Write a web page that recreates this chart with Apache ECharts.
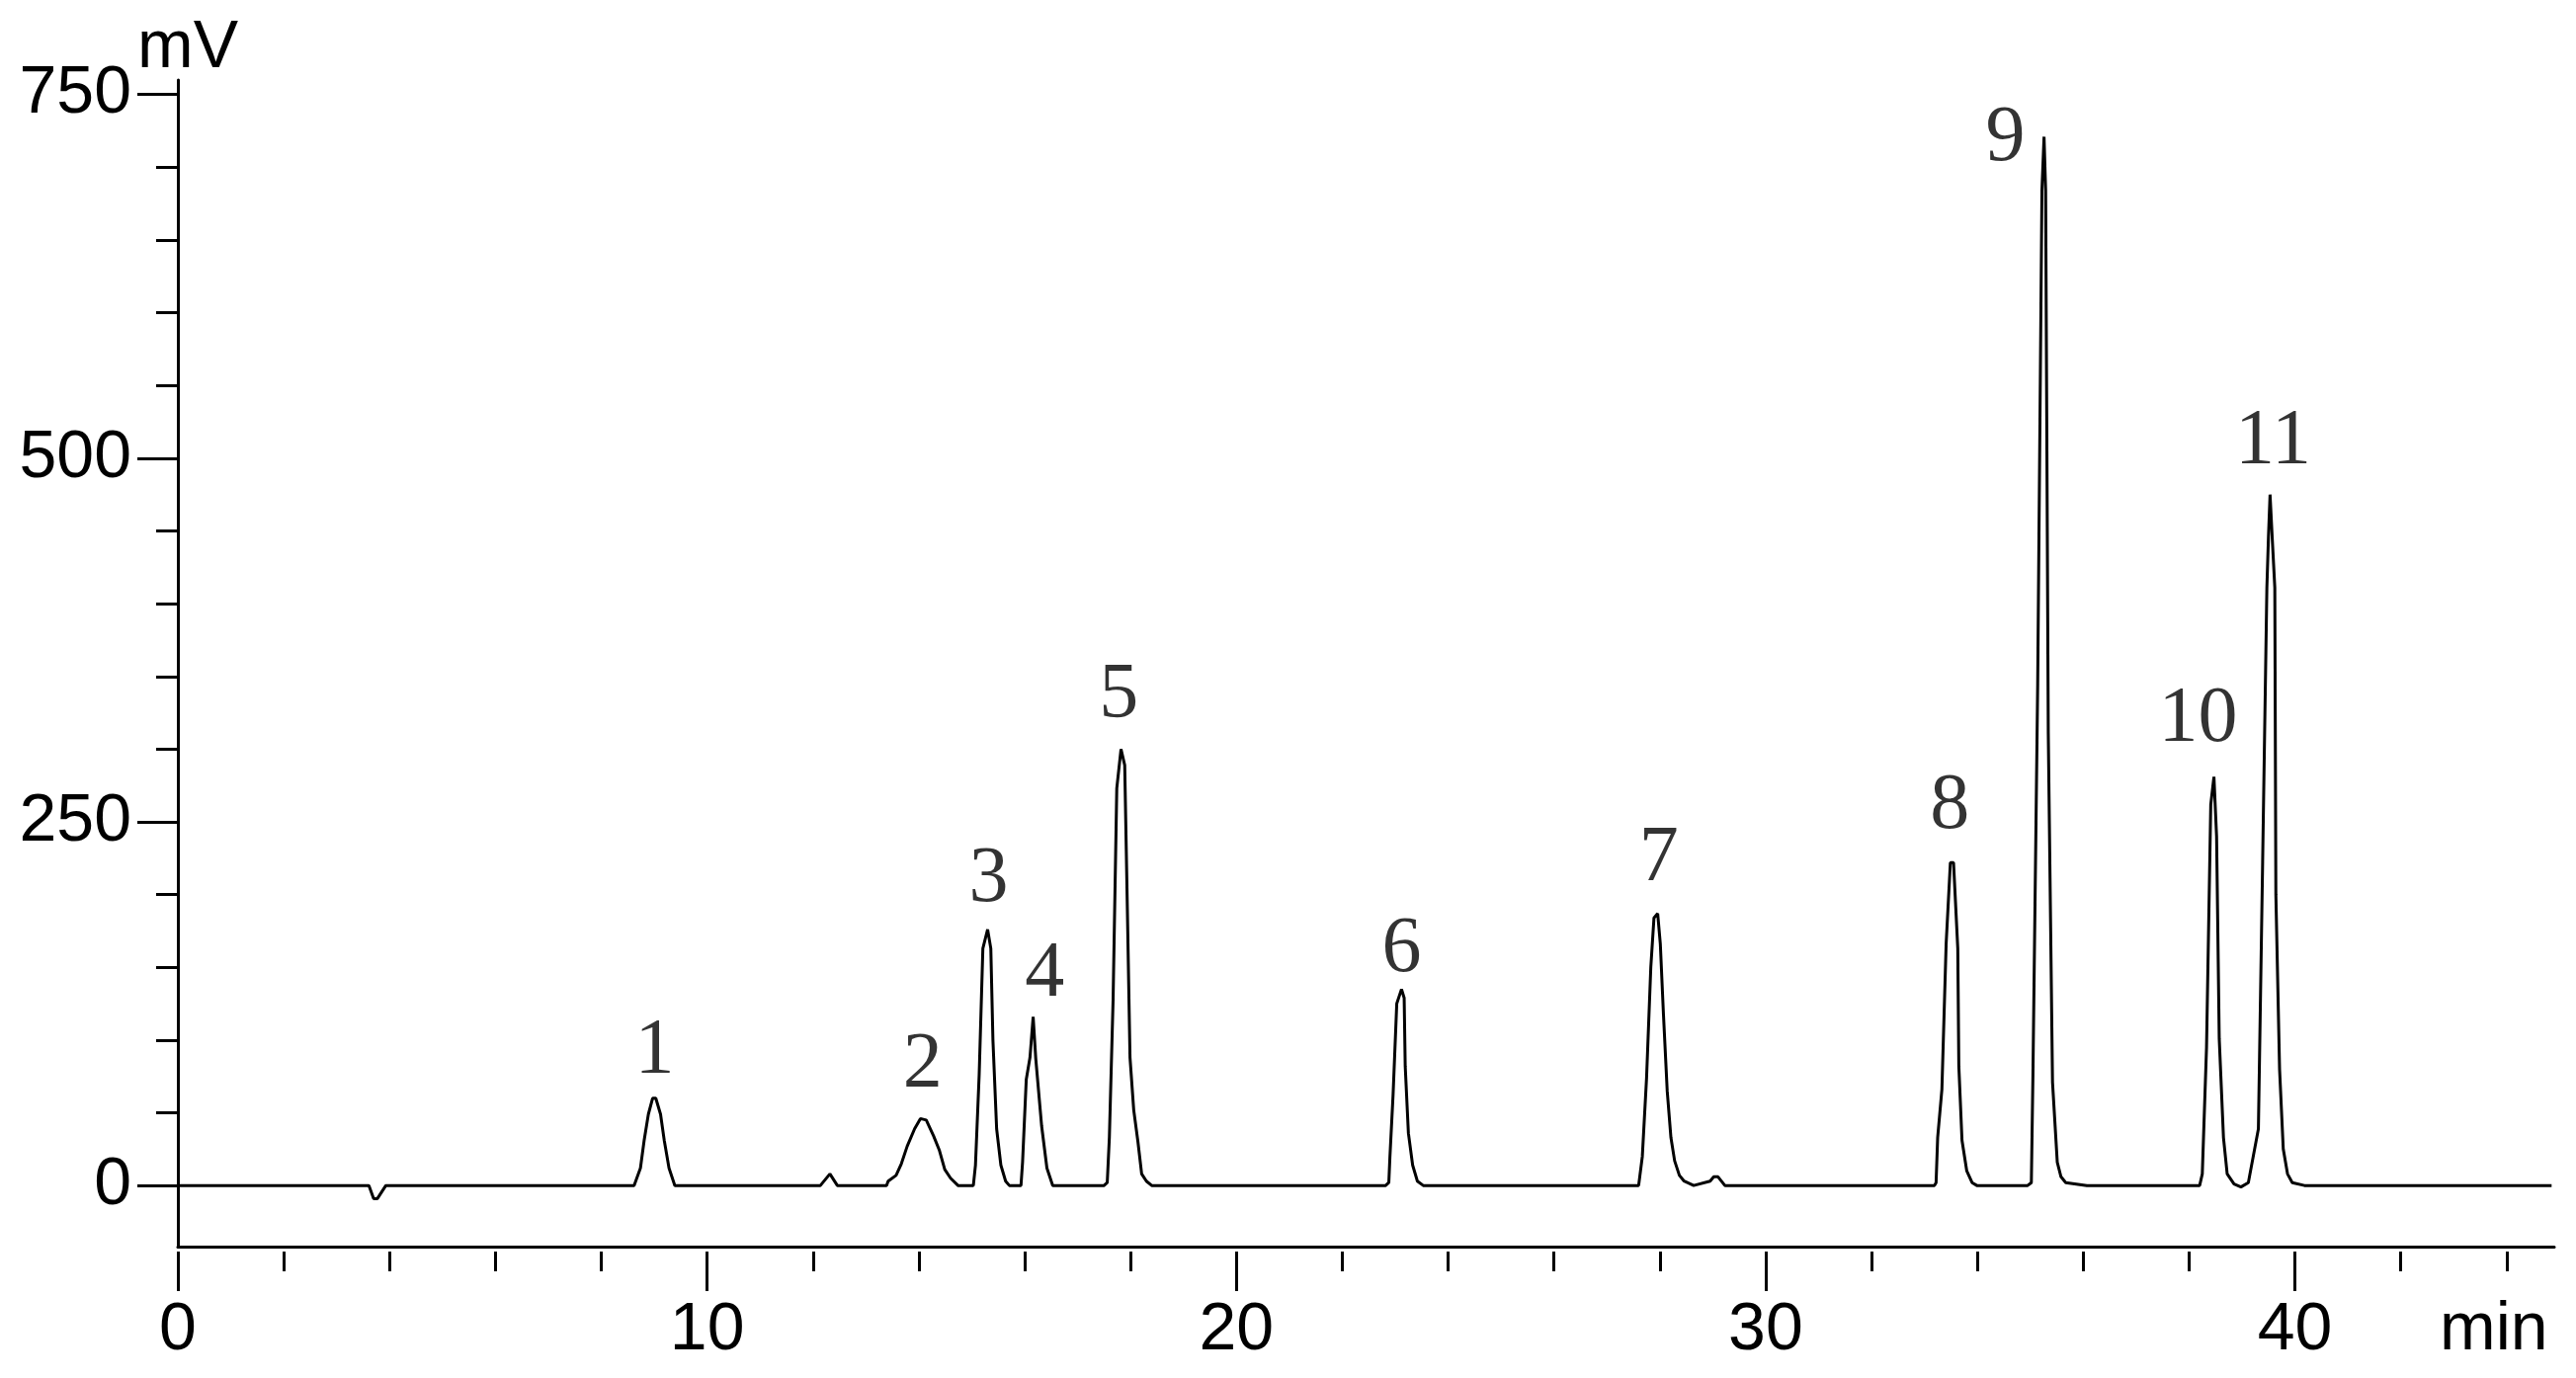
<!DOCTYPE html>
<html>
<head>
<meta charset="utf-8">
<title>Chromatogram</title>
<script src="https://cdn.jsdelivr.net/npm/echarts@6.0.0/dist/echarts.min.js"></script>
<style>
    html, body { margin: 0; padding: 0; background: #fff; }
    #chart { width: 2607px; height: 1395px; }
</style>
</head>
<body>
<div id="chart"></div>
<script>
// Trace pieces, [time (min), signal (mV)]
const baseStart = [[0, 0]];
const dip = [[3.61, 0], [3.70, -9], [3.77, -9], [3.93, 0]];
const peak1 = [[8.62, 0], [8.74, 12], [8.81, 31], [8.89, 49], [8.97, 60], [9.03, 60], [9.12, 49], [9.19, 31], [9.28, 12], [9.39, 0]];
const bump1 = [[12.14, 0], [12.32, 8], [12.46, 0]];
const peak2 = [[13.39, 0], [13.42, 3], [13.57, 7], [13.67, 15], [13.78, 27], [13.92, 39], [14.03, 46], [14.14, 45], [14.28, 34], [14.39, 24], [14.49, 11], [14.60, 5], [14.74, 0]];
const peak3 = [[15.03, 0], [15.07, 14], [15.14, 76], [15.21, 163], [15.30, 176], [15.36, 163], [15.40, 100], [15.47, 39], [15.55, 14], [15.64, 3], [15.71, 0]];
const peak4 = [[15.93, 0], [15.96, 16], [16.03, 73], [16.10, 88], [16.16, 116], [16.21, 87], [16.32, 41], [16.42, 12], [16.53, 0]];
const peak5 = [[17.50, 0], [17.56, 2], [17.60, 33], [17.67, 127], [17.74, 273], [17.82, 300], [17.89, 289], [17.94, 190], [17.99, 88], [18.06, 52], [18.14, 30], [18.21, 8], [18.30, 3], [18.40, 0]];
const peak6 = [[22.82, 0], [22.88, 2], [22.90, 19], [22.96, 62], [23.03, 125], [23.12, 135], [23.17, 129], [23.19, 82], [23.25, 36], [23.33, 14], [23.42, 3], [23.53, 0]];
const peak7 = [[27.60, 0], [27.67, 20], [27.75, 74], [27.83, 150], [27.89, 184], [27.96, 187], [28.01, 166], [28.07, 117], [28.14, 65], [28.21, 33], [28.28, 17], [28.37, 7], [28.46, 3], [28.64, 0]];
const bump2 = [[28.95, 3], [29.02, 6], [29.10, 6], [29.23, 0]];
const peak8 = [[33.19, 0], [33.22, 2], [33.25, 33], [33.33, 66], [33.41, 166], [33.49, 222], [33.55, 222], [33.63, 163], [33.65, 82], [33.71, 31], [33.80, 10], [33.90, 2], [33.99, 0]];
const peak9 = [[34.95, 0], [35.02, 2], [35.05, 76], [35.14, 345], [35.22, 684], [35.26, 721], [35.29, 684], [35.34, 311], [35.42, 71], [35.51, 16], [35.58, 6], [35.67, 2], [36.07, 0]];
const peak10 = [[38.20, 0], [38.25, 8], [38.33, 95], [38.41, 262], [38.47, 281], [38.52, 240], [38.57, 101], [38.65, 33], [38.72, 8], [38.85, 1], [38.98, -1]];
const peak11 = [[39.12, 2], [39.31, 39], [39.39, 222], [39.47, 411], [39.50, 446], [39.53, 475], [39.57, 446], [39.62, 411], [39.64, 200], [39.71, 80], [39.78, 25], [39.86, 8], [39.95, 2], [40.18, 0]];
const baseEnd = [[44.85, 0]];

// Peak numbers and where they sit (time, mV)
const peakNames = ['1', '2', '3', '4', '5', '6', '7', '8', '9', '10', '11'];
const labelTimes = [9.01, 14.07, 15.32, 16.38, 17.78, 23.12, 27.98, 33.48, 34.53, 38.17, 39.59];
const labelLevels = [92, 82, 210, 145, 336, 162, 224, 260, 719, 320, 511];

// Tick values
const xMajorTicks = [0, 10, 20, 30, 40];
const xMinorTicks = [2, 4, 6, 8, 12, 14, 16, 18, 22, 24, 26, 28, 32, 34, 36, 38, 42, 44];
const yMajorTicks = [0, 250, 500, 750];
const yMinorTicks = [50, 100, 150, 200, 300, 350, 400, 450, 550, 600, 650, 700];

const X_MAX = 44.9;
const Y_MIN = -42;
const Y_MAX = 760;

document.addEventListener('DOMContentLoaded', function() {
    const chart = echarts.init(document.getElementById('chart'));

    const trace = [].concat(baseStart, dip, peak1, bump1, peak2, peak3, peak4, peak5,
        peak6, peak7, bump2, peak8, peak9, peak10, peak11, baseEnd);

    const labelData = peakNames.map(function(name, i) {
        return { name: name, value: [labelTimes[i], labelLevels[i]] };
    });

    const black = '#000';
    const axisFont = { fontFamily: 'Liberation Sans', fontSize: 68, color: black };

    const option = {
        animation: false,
        backgroundColor: '#fff',
        grid: { left: 180, right: 22, top: 81, bottom: 133, containLabel: false },
        xAxis: [
            {   // axis line only
                type: 'value', min: 0, max: X_MAX, position: 'bottom',
                axisLine: { show: true, onZero: false, lineStyle: { color: black, width: 3 } },
                axisTick: { show: false },
                axisLabel: { show: false },
                splitLine: { show: false }
            },
            {   // major ticks + labels, a bit below the line
                type: 'value', min: 0, max: X_MAX, position: 'bottom', offset: 5,
                axisLine: { show: false, onZero: false },
                axisTick: { show: true, length: 40, customValues: xMajorTicks, lineStyle: { color: black, width: 3 } },
                axisLabel: Object.assign({ customValues: xMajorTicks, margin: 46 }, axisFont),
                splitLine: { show: false },
                name: 'min',
                nameLocation: 'end',
                nameGap: -116,
                nameTextStyle: Object.assign({ verticalAlign: 'top', align: 'left', padding: [46, 0, 0, 0] }, axisFont)
            },
            {   // minor ticks
                type: 'value', min: 0, max: X_MAX, position: 'bottom', offset: 5,
                axisLine: { show: false, onZero: false },
                axisTick: { show: true, length: 20, customValues: xMinorTicks, lineStyle: { color: black, width: 3 } },
                axisLabel: { show: false },
                splitLine: { show: false }
            }
        ],
        yAxis: [
            {
                type: 'value', min: Y_MIN, max: Y_MAX, position: 'left',
                axisLine: { show: true, onZero: false, lineStyle: { color: black, width: 3 } },
                axisTick: { show: true, length: 41, customValues: yMajorTicks, lineStyle: { color: black, width: 3 } },
                axisLabel: Object.assign({ customValues: yMajorTicks, margin: 47 }, axisFont),
                splitLine: { show: false },
                name: 'mV',
                nameLocation: 'end',
                nameGap: -2,
                nameTextStyle: Object.assign({ padding: [0, 0, 0, 20] }, axisFont)
            },
            {
                type: 'value', min: Y_MIN, max: Y_MAX, position: 'left',
                axisLine: { show: false, onZero: false },
                axisTick: { show: true, length: 22, customValues: yMinorTicks, lineStyle: { color: black, width: 3 } },
                axisLabel: { show: false },
                splitLine: { show: false }
            }
        ],
        series: [
            {
                type: 'line',
                xAxisIndex: 0,
                yAxisIndex: 0,
                data: trace,
                symbol: 'none',
                lineStyle: { color: black, width: 3 }
            },
            {
                type: 'scatter',
                xAxisIndex: 0,
                yAxisIndex: 0,
                data: labelData,
                symbolSize: 1,
                itemStyle: { color: 'transparent' },
                label: {
                    show: true,
                    position: 'inside',
                    formatter: '{b}',
                    fontFamily: 'Liberation Serif',
                    fontSize: 80,
                    color: black
                }
            }
        ]
    };

    chart.setOption(option);
});
</script>
</body>
</html>
